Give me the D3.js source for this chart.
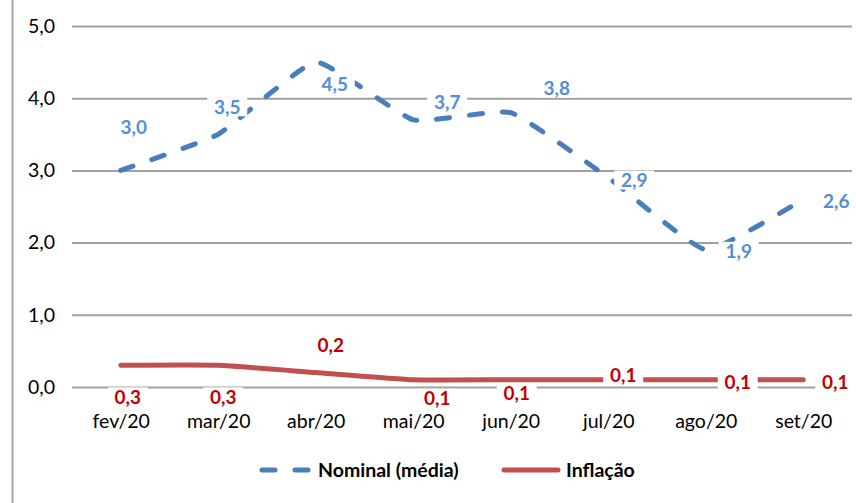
<!DOCTYPE html>
<html>
<head>
<meta charset="utf-8">
<script src="https://cdn.jsdelivr.net/npm/d3@7"></script>
<style>
  body { margin: 0; background: #fff; }
  text { font-family: Lato, "Noto Sans", sans-serif; }
</style>
</head>
<body>
<svg id="chart" width="856" height="503"></svg>
<script>
// data
const months = ["fev/20", "mar/20", "abr/20", "mai/20", "jun/20", "jul/20", "ago/20", "set/20"];
const nominal = [3.0, 3.5, 4.5, 3.7, 3.8, 2.9, 1.9, 2.6];
const inflacao = [0.3, 0.3, 0.2, 0.1, 0.1, 0.1, 0.1, 0.1];
const yTicks = [0, 1, 2, 3, 4, 5];
const seriesNames = ["Nominal (média)", "Inflação"];

// label nudges (px) relative to each point, as placed in the original
const nominalNudge = [[13, -43], [9, -27], [19, 22], [34, -18], [46, -24], [26, 3], [33, 2], [33, 2]];
const inflacaoNudge = [[7, 32], [5, 32], [15, -27], [24, 19], [6, 14], [15, -4], [32, 3], [32, 3]];

const svg = d3.select("#chart");
const fmt = v => d3.format(".1f")(v).replace(".", ",");

const x = d3.scalePoint().domain(months).range([72, 852]).padding(0.5);
const y = d3.scaleLinear().domain([0, 5]).range([387, 26]);

// left edge of the chart frame
svg.append("line")
  .attr("x1", 12.5).attr("x2", 12.5).attr("y1", 0).attr("y2", 503)
  .attr("stroke", "#a6a6a6").attr("stroke-width", 2);

// gridlines
svg.append("g").selectAll("line").data(yTicks).join("line")
  .attr("x1", 72).attr("x2", 852)
  .attr("y1", d => y(d) + 0.5).attr("y2", d => y(d) + 0.5)
  .attr("stroke", "#a0a0a0").attr("stroke-width", 2);

// y axis labels
const yAxis = svg.append("g").attr("transform", "translate(55,0)")
  .call(d3.axisLeft(y).tickValues(yTicks).tickFormat(fmt).tickSize(0).tickPadding(0));
yAxis.select(".domain").remove();
yAxis.selectAll("text")
  .style("font-family", "Lato, sans-serif").style("font-size", "19.5px").attr("fill", "#000");

const line = d3.line()
  .x((d, i) => x(months[i]))
  .y(d => y(d))
  .curve(d3.curveCardinal.tension(0.6));

svg.append("path").datum(nominal)
  .attr("d", line)
  .attr("fill", "none")
  .attr("stroke", "#4a7ebb")
  .attr("stroke-width", 5)
  .attr("stroke-linecap", "round")
  .attr("stroke-dasharray", "13,20");

svg.append("path").datum(inflacao)
  .attr("d", line)
  .attr("fill", "none")
  .attr("stroke", "#c0504d")
  .attr("stroke-width", 5)
  .attr("stroke-linecap", "round");

// data labels with white boxes, like the spreadsheet ones
function addLabels(values, nudge, color) {
  const g = svg.append("g").selectAll("g").data(values).join("g")
    .attr("transform", (d, i) => `translate(${x(months[i]) + nudge[i][0]},${y(d) + nudge[i][1]})`);
  g.append("rect")
    .attr("x", -20).attr("y", -10).attr("width", 40).attr("height", 19)
    .attr("fill", "#fff");
  g.append("text")
    .attr("text-anchor", "middle")
    .attr("dy", "0.35em")
    .style("font-size", "19px")
    .style("font-weight", "bold")
    .attr("fill", color)
    .text(d => fmt(d));
}
addLabels(nominal, nominalNudge, "#558ed5");
addLabels(inflacao, inflacaoNudge, "#c00000");

// x axis labels (drawn after the label boxes)
const xAxis = svg.append("g").attr("transform", "translate(0,414)")
  .call(d3.axisBottom(x).tickSize(0).tickPadding(0));
xAxis.select(".domain").remove();
xAxis.selectAll("text")
  .style("font-family", "Lato, sans-serif").style("font-size", "19.5px").attr("fill", "#000");

// legend
const legend = svg.append("g").attr("transform", "translate(0,470)");
const legendItems = [
  { name: seriesNames[0], x: 262, len: 48, color: "#4a7ebb", dash: "13,20" },
  { name: seriesNames[1], x: 504, len: 54, color: "#c0504d", dash: null }
];
const li = legend.selectAll("g").data(legendItems).join("g")
  .attr("transform", d => `translate(${d.x},0)`);
li.append("line")
  .attr("x1", 0).attr("x2", d => d.len)
  .attr("stroke", d => d.color)
  .attr("stroke-width", 5)
  .attr("stroke-linecap", "round")
  .attr("stroke-dasharray", d => d.dash);
li.append("text")
  .attr("x", d => d.len + 8)
  .attr("dy", "0.35em")
  .style("font-size", "19.5px")
  .style("font-weight", "bold")
  .attr("fill", "#000")
  .text(d => d.name);
</script>
</body>
</html>
